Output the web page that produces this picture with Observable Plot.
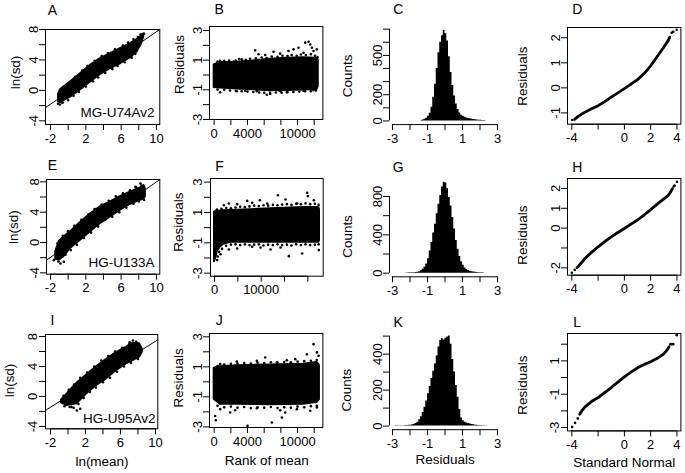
<!DOCTYPE html>
<html><head><meta charset="utf-8">
<script src="https://cdn.jsdelivr.net/npm/d3@7"></script>
<script src="https://cdn.jsdelivr.net/npm/@observablehq/plot@0.6"></script>
<style>
body{margin:0;background:#fff;}
#fig{position:relative;width:685px;height:473px;overflow:hidden;background:#fff;font-family:"Liberation Sans",Arial,sans-serif;}
#fig svg{position:absolute;}
</style></head><body><div id="fig"></div>
<script>
// ---------- text ----------
const letters = ["A","B","C","D","E","F","G","H","I","J","K","L"];
const chips = ["MG-U74Av2","HG-U133A","HG-U95Av2"];
const xTitles = ["ln(mean)","Rank of mean","Residuals","Standard Normal"];
const yTitles = ["ln(sd)","Residuals","Counts","Residuals"];

// ---------- ticks ----------
const lnTicksX = [-2,0,2,4,6,8,10], lnLabelsX = [-2,2,6,10];
const lnTicksY = [-4,-2,0,2,4,6,8], lnLabelsY = [-4,0,4,8];
const rankTicks12k = [0,2000,4000,6000,8000,10000,12000], rankLabels12k = [0,4000,10000];
const rankTicks22k = [0,5000,10000,15000,20000], rankLabels22k = [0,10000];
const resTicksY = [-3,-2,-1,0,1,2,3], resLabelsY = [-3,-1,1,3];
const histTicksX = [-3,-2,-1,0,1,2,3], histLabelsX = [-3,-1,1,3];
const countTicksC = [0,100,200,300,400,500,600,700], countLabelsC = [0,200,500];
const countTicksG = [0,200,400,600,800], countLabelsG = [0,400,800];
const countTicksK = [0,100,200,300,400,500], countLabelsK = [0,200,400];
const qqTicksX = [-4,-2,0,2,4], qqLabelsX = [-4,0,2,4];
const qqTicksYD = [-1,0,1,2], qqLabelsYD = [-1,0,1,2];
const qqTicksYH = [-2,-1,0,1,2], qqLabelsYH = [-2,0,1,2];
const qqTicksYL = [-3,-2,-1,0,1,2], qqLabelsYL = [-3,-1,1];

// ---------- ln(sd) vs ln(mean) clouds (envelopes + edge points) ----------
const cloudA_x  = [-1.1,-0.87,-0.5,0.26,1.4,2.53,3.66,4.8,5.92,7.06,7.8,8.3,8.55];
const cloudA_lo = [-1.5,-1.6,-1.35,-0.88,0.09,1.1,2.1,2.86,3.5,4.3,5.05,6.1,7.0];
const cloudA_hi = [-0.6,0.09,0.45,1.1,2.2,3.3,4.18,4.84,5.5,6.15,6.68,7.1,7.4];
const outA_x = [-1.15,-0.95,-0.7,8.4,8.6,
                0.0,0.8,1.6,2.2,3.0,3.8,4.5,5.3,6.2,6.8,7.4,7.9,8.2,
                -0.6,0.0,0.6,1.2,2.0,2.8,3.4,4.2,5.0,5.6,6.4,7.2,7.6];
const outA_y = [-1.75,-1.85,-1.6,7.35,7.45,
                0.9,1.8,2.6,3.2,3.9,4.5,4.9,5.4,5.9,6.3,6.7,7.0,7.35,
                -1.6,-1.3,-0.7,-0.2,0.5,1.2,1.7,2.3,2.8,3.2,3.7,4.3,4.8];
const fitA_x = [-2.57,10.38], fitA_y = [-2.26,8.0];

const cloudE_x  = [-1.4,-1.0,-0.5,0.26,1.4,2.53,3.66,4.8,5.92,7.06,8.19,8.6,8.75];
const cloudE_lo = [-2.2,-2.3,-1.9,-0.79,0.31,1.41,2.5,3.38,4.26,5.05,5.58,5.75,6.0];
const cloudE_hi = [-1.2,0.15,0.7,1.4,2.65,3.75,4.7,5.35,6.05,6.65,7.2,7.5,7.0];
const outE_x = [-1.62,-0.87,-0.49,7.62,8.19,
                -1.2,-0.6,0.0,0.7,1.5,2.3,3.0,3.8,4.6,5.4,6.2,7.0,7.7,8.3,
                -1.1,-0.3,0.3,1.0,1.8,2.6,3.4,4.2,5.0,5.8,6.6,7.4,8.0,8.6];
const outE_y = [-2.33,-2.77,-2.55,7.34,7.78,
                -0.1,0.9,1.5,2.2,3.0,3.7,4.4,5.0,5.5,6.1,6.5,6.9,7.3,7.5,
                -2.5,-1.6,-1.0,-0.3,0.6,1.3,2.1,3.0,3.4,4.0,4.6,5.1,5.4,5.6];
const fitE_x = [-2.45,10.38], fitE_y = [-2.33,8.31];

const cloudI_x  = [-0.75,-0.11,0.26,1.02,2.15,3.28,4.42,5.55,6.68,7.43,8.19,8.5];
const cloudI_lo = [-0.85,-1.2,-1.15,-0.98,0.36,1.47,2.36,3.47,4.36,4.8,5.24,5.9];
const cloudI_hi = [-0.5,0.3,0.8,1.75,2.85,3.95,4.95,5.85,6.55,7.1,7.02,6.3];
const outI_x = [1.02,1.4,0.64,7.06,7.43,0.2,
                -0.5,0.1,0.7,1.4,2.2,3.0,3.8,4.6,5.4,6.2,7.0,7.8,
                -0.4,0.4,1.2,1.8,2.5,3.2,4.0,4.8,5.6,6.4,7.2,8.0];
const outI_y = [-1.87,-1.64,-1.51,7.24,7.47,-1.4,
                0.1,0.9,1.6,2.5,3.2,4.0,4.8,5.4,6.0,6.5,7.0,7.3,
                -1.3,-1.4,-1.0,-0.2,0.6,1.2,1.9,2.5,3.3,4.0,4.5,5.0];
const fitI_x = [-2.57,10.27], fitI_y = [-1.85,7.56];

// ---------- residuals vs rank ----------
const bandB_x  = [0,720,2720,4720,6720,8720,10720,12320,12488];
const bandB_lo = [-0.85,-0.88,-0.95,-1.0,-1.06,-1.04,-1.02,-0.98,-0.8];
const bandB_hi = [0.68,0.84,0.86,0.95,1.06,1.13,1.17,1.13,1.0];
const outB_x = [720,2320,3320,4920,5320,6120,7120,7920,8920,9520,10120,10720,10920,11320,11520,11720,11920,12320,
                720,2720,3720,5120,6320,6720,7920,8720,10720,11920,
                400,1200,1800,2600,3000,3800,4300,5000,5700,6300,6900,7600,8200,8800,9300,9900,10400,11000,11600,12100,12400,
                400,1200,1900,2600,3300,4000,4700,5400,6000,6700,7400,8100,8800,9500,10200,10900,11600,12200];
const outB_y = [0.95,0.9,1.06,1.66,1.4,1.35,1.57,1.44,1.62,1.73,1.84,1.5,2.18,2.24,2.06,1.84,1.62,1.73,
                -1.17,-1.1,-1.06,-1.1,-1.33,-1.28,-1.1,-1.17,-1.06,-1.02,
                0.9,0.95,0.98,0.97,1.08,1.02,1.1,1.12,1.18,1.15,1.25,1.22,1.3,1.28,1.35,1.3,1.38,1.35,1.4,1.3,1.2,
                -0.98,-1.0,-1.05,-1.08,-1.1,-1.12,-1.15,-1.18,-1.2,-1.2,-1.18,-1.2,-1.15,-1.15,-1.12,-1.1,-1.1,-1.05];

const bandF_x  = [0,360,570,1290,2000,3430,6290,12000,19140,22360,22500];
const bandF_lo = [-2.25,-1.92,-1.59,-1.26,-1.09,-0.97,-0.97,-0.97,-0.95,-0.97,-0.85];
const bandF_hi = [1.04,1.06,1.08,1.1,1.11,1.13,1.17,1.24,1.33,1.33,1.2];
const outF_x = [3071,4857,7000,8071,9714,11286,13571,15214,17714,19857,20000,21286,2000,
                571,1286,3071,4857,8071,12000,15929,18786,22357,14143,9857,
                500,1500,2500,3500,4500,5500,6500,7500,8500,9500,10500,11500,12500,13500,14500,15500,16500,17500,18500,19500,20500,21500,22300,
                700,1000,1600,2500,3500,4500,5500,6500,7500,8500,9500,10500,11500,12500,13500,14500,15500,16500,17500,18500,19500,20500,21500,22300];
const outF_y = [1.59,1.55,1.77,1.64,1.81,1.59,2.14,1.86,1.59,2.3,2.08,1.81,1.48,
                -2.14,-1.75,-1.44,-1.37,-1.26,-1.44,-1.88,-1.7,-1.48,-1.31,-1.31,
                1.2,1.25,1.3,1.28,1.33,1.38,1.35,1.4,1.45,1.42,1.48,1.45,1.5,1.48,1.52,1.55,1.5,1.58,1.55,1.6,1.55,1.58,1.5,
                -1.9,-1.6,-1.4,-1.2,-1.12,-1.1,-1.15,-1.1,-1.15,-1.12,-1.1,-1.18,-1.12,-1.15,-1.1,-1.15,-1.12,-1.18,-1.1,-1.15,-1.1,-1.15,-1.12,-1.1];

const bandJ_x  = [0,720,2720,6720,10720,12320,12625];
const bandJ_lo = [-1.16,-1.49,-1.49,-1.53,-1.49,-1.38,-1.2];
const bandJ_hi = [0.91,1.0,1.07,1.13,1.18,1.29,1.1];
const outJ_x = [720,2720,5120,6120,7520,8720,9720,11120,11920,12320,12520,
                120,200,720,1920,2520,4000,5120,6920,8120,8520,7920,9920,11520,12320,
                400,1200,2000,2800,3600,4400,5200,6000,6800,7600,8400,9200,10000,10800,11600,12300,
                400,1200,2000,2800,3600,4400,5200,6000,6800,7600,8400,9200,10000,10800,11600,12300];
const outJ_y = [1.18,1.36,1.4,1.62,1.29,1.44,1.51,1.84,2.51,1.96,1.73,
                -2.27,-2.56,-1.82,-2.04,-1.89,-2.93,-1.76,-2.71,-2.38,-2.04,-1.89,-1.82,-1.93,-1.71,
                1.05,1.15,1.2,1.22,1.25,1.22,1.28,1.25,1.3,1.28,1.32,1.3,1.35,1.38,1.4,1.45,
                -1.6,-1.7,-1.65,-1.72,-1.68,-1.75,-1.7,-1.72,-1.68,-1.75,-1.7,-1.72,-1.65,-1.7,-1.62,-1.6];

// ---------- histograms (bin centres, counts) ----------
const histC_x = [-1.35,-1.25,-1.15,-1.05,-0.95,-0.85,-0.75,-0.65,-0.55,-0.45,-0.35,-0.25,-0.15,-0.05,
                 0.05,0.15,0.25,0.35,0.45,0.55,0.65,0.75,0.85,0.95,1.05,1.15,1.25,1.35,1.45,1.55,1.65,1.75,1.85,1.95,2.05,2.15,2.25,2.35];
const histC_n = [4,7,12,20,35,58,105,180,280,400,520,600,650,690,
                 665,610,490,370,270,190,130,88,60,44,35,28,23,19,16,13,11,9,7,6,5,4,3,2];
const histG_x = [-2.25,-2.15,-2.05,-1.95,-1.85,-1.75,-1.65,-1.55,-1.45,-1.35,-1.25,-1.15,-1.05,-0.95,-0.85,-0.75,-0.65,-0.55,-0.45,-0.35,-0.25,-0.15,-0.05,
                 0.05,0.15,0.25,0.35,0.45,0.55,0.65,0.75,0.85,0.95,1.05,1.15,1.25,1.35,1.45,1.55,1.65,1.75,1.85,1.95,2.05,2.15,2.25];
const histG_n = [2,2,3,3,4,5,7,10,15,25,40,62,95,150,230,320,420,510,620,720,810,900,950,
                 940,880,790,700,580,460,340,250,175,120,82,55,38,27,20,15,11,9,7,5,4,3,2];
const histK_x = [-2.85,-2.75,-2.65,-2.55,-2.45,-2.35,-2.25,-2.15,-2.05,-1.95,-1.85,-1.75,-1.65,-1.55,-1.45,-1.35,-1.25,-1.15,-1.05,-0.95,-0.85,-0.75,-0.65,-0.55,-0.45,-0.35,-0.25,-0.15,-0.05,
                 0.05,0.15,0.25,0.35,0.45,0.55,0.65,0.75,0.85,0.95,1.05,1.15,1.25,1.35,1.45,1.55,1.65,1.75,1.85,1.95,2.05,2.15,2.25,2.35,2.45];
const histK_n = [2,2,2,2,2,2,3,3,4,5,7,10,15,22,35,52,75,105,140,180,220,265,305,345,390,440,475,485,478,
                 488,495,500,455,370,300,225,160,92,45,30,22,17,14,11,9,7,5,4,3,3,2,2,2,2];

// ---------- normal QQ plots ----------
const qqD_x = [-3.75,-3.5,-3.0,-2.5,-2.0,-1.5,-1.0,-0.5,0,0.5,1.0,1.5,2.0,2.5,3.0,3.3,3.45];
const qqD_y = [-1.24,-1.13,-0.97,-0.83,-0.71,-0.55,-0.37,-0.2,-0.03,0.15,0.33,0.57,0.88,1.25,1.62,1.86,2.02];
const qqD_tx = [-3.97,-3.8,3.6,3.72,3.98], qqD_ty = [-1.28,-1.26,2.2,2.24,2.32];
const qqH_x = [-3.6,-3.5,-3.0,-2.5,-2.0,-1.5,-1.0,-0.5,0,0.5,1.0,1.5,2.0,2.5,3.0,3.3,3.5,3.65];
const qqH_y = [-1.98,-1.92,-1.53,-1.22,-0.94,-0.68,-0.44,-0.22,-0.02,0.2,0.41,0.66,0.93,1.21,1.47,1.62,1.8,1.98];
const qqH_tx = [-4.0,-3.78,3.75,3.82,4.0], qqH_ty = [-2.25,-2.1,2.1,2.14,2.34];
const qqL_x = [-3.4,-3.2,-3.0,-2.5,-2.0,-1.5,-1.0,-0.5,0,0.5,1.0,1.5,2.0,2.5,3.0,3.3,3.4];
const qqL_y = [-2.2,-1.95,-1.76,-1.44,-1.2,-0.9,-0.6,-0.28,0.04,0.32,0.58,0.78,0.95,1.15,1.42,1.7,1.85];
const qqL_tx = [-3.98,-3.75,-3.55,3.5,3.6,3.72,3.98], qqL_ty = [-2.96,-2.72,-2.45,2.0,2.0,2.0,2.54];

// ---------- helpers ----------
const zip = (keys, ...arrs) => arrs[0].map((_, i) => Object.fromEntries(keys.map((k, j) => [k, arrs[j][i]])));
const fig = document.getElementById("fig");
const FONT = "Liberation Sans, Arial, Helvetica, sans-serif";

function cloudMarks(cx, lo, hi, ox, oy, fx, fy) {
  return [
    Plot.areaY(zip(["x","lo","hi"], cx, lo, hi), {x: "x", y1: "lo", y2: "hi", fill: "black", stroke: "black", strokeWidth: 2, strokeLinejoin: "round"}),
    Plot.dot(zip(["x","y"], ox, oy), {x: "x", y: "y", r: 1.3, fill: "black"}),
    Plot.line(zip(["x","y"], fx, fy), {x: "x", y: "y", stroke: "black", strokeWidth: 1})
  ];
}
function bandMarks(bx, lo, hi, ox, oy) {
  return [
    Plot.areaY(zip(["x","lo","hi"], bx, lo, hi), {x: "x", y1: "lo", y2: "hi", fill: "black", stroke: "black", strokeWidth: 2, strokeLinejoin: "round"}),
    Plot.dot(zip(["x","y"], ox, oy), {x: "x", y: "y", r: 1.3, fill: "black"})
  ];
}
function histMarks(hx, hn) {
  return [Plot.areaY(zip(["x","n"], hx, hn), {x: "x", y: "n", curve: "step", fill: "black"})];
}
function qqMarks(qx, qy, tx, ty) {
  return [
    Plot.line(zip(["x","y"], qx, qy), {x: "x", y: "y", stroke: "black", strokeWidth: 2.8, strokeLinecap: "round"}),
    Plot.dot(zip(["x","y"], tx, ty), {x: "x", y: "y", r: 1.3, fill: "black"})
  ];
}

function panel(p) {
  const [x0, y0, x1, y1] = p.box;
  const ML = 30, MR = 6, MT = 6, MB = 30;
  const W = x1 - x0 + ML + MR, H = y1 - y0 + MT + MB;
  const fmt = labs => d => labs.includes(d) ? String(d) : "";
  const m = [];
  m.push(...p.marks);
  if (p.frame) m.push(Plot.frame({stroke: "black", strokeWidth: 1}));
  m.push(Plot.ruleY([p.y[0]], {x1: p.xt[0], x2: p.xt[p.xt.length - 1], stroke: "black"}));
  m.push(Plot.ruleX([p.x[0]], {y1: p.yt[0], y2: p.yt[p.yt.length - 1], stroke: "black"}));
  m.push(Plot.axisX(p.xt, {tickFormat: fmt(p.xl), tickSize: 6, tickPadding: 3, label: null}));
  m.push(Plot.axisY(p.yt, {tickFormat: fmt(p.yl), tickSize: 6, tickPadding: 2, tickRotate: -90, label: null}));
  for (const t of p.texts) {
    m.push(Plot.text([t.s], {frameAnchor: "top-left", dx: t.x - x0, dy: t.y - y0, rotate: t.r || 0,
      fontSize: t.f || 13.5, textAnchor: t.a || "middle", lineAnchor: t.l || "middle", fill: "black"}));
  }
  const svg = Plot.plot({
    width: W, height: H, marginLeft: ML, marginRight: MR, marginTop: MT, marginBottom: MB,
    x: {domain: p.x, nice: false}, y: {domain: p.y, nice: false},
    style: {background: "transparent", overflow: "visible", fontFamily: FONT, fontSize: "13px", color: "black"},
    marks: m
  });
  svg.style.position = "absolute";
  svg.style.left = (x0 - ML) + "px";
  svg.style.top = (y0 - MT) + "px";
  fig.appendChild(svg);
}

const L = (s, x, y) => ({s, x, y, f: 14});
const YT = (s, x, y) => ({s, x, y, r: -90});
const XT = (s, x, y) => ({s, x, y});
const CH = (s, x, y) => ({s, x, y, a: "end", l: "bottom"});

// Row 1
panel({box: [45, 29, 159.3, 124], x: [-2.57, 10.38], y: [-4.48, 8.0], frame: true,
  xt: lnTicksX, xl: lnLabelsX, yt: lnTicksY, yl: lnLabelsY,
  marks: cloudMarks(cloudA_x, cloudA_lo, cloudA_hi, outA_x, outA_y, fitA_x, fitA_y),
  texts: [L(letters[0], 52, 10), YT(yTitles[0], 15, 72), CH(chips[0], 154, 117)]});
panel({box: [209.3, 26, 322.7, 119], x: [-560, 13040], y: [-3.0, 3.27], frame: true,
  xt: rankTicks12k, xl: rankLabels12k, yt: resTicksY, yl: resLabelsY,
  marks: bandMarks(bandB_x, bandB_lo, bandB_hi, outB_x, outB_y),
  texts: [L(letters[1], 219, 9), YT(yTitles[1], 179, 64)]});
panel({box: [389.3, 24.6, 500.3, 123.7], x: [-3.17, 3.17], y: [-28, 728], frame: false,
  xt: histTicksX, xl: histLabelsX, yt: countTicksC, yl: countLabelsC,
  marks: histMarks(histC_x, histC_n),
  texts: [L(letters[2], 398, 9), YT(yTitles[2], 347, 75)]});
panel({box: [567.3, 27.3, 680.7, 124], x: [-4.33, 4.30], y: [-1.45, 2.41], frame: true,
  xt: qqTicksX, xl: qqLabelsX, yt: qqTicksYD, yl: qqLabelsYD,
  marks: qqMarks(qqD_x, qqD_y, qqD_tx, qqD_ty),
  texts: [L(letters[3], 577, 9), YT(yTitles[3], 522, 76)]});

// Row 2
panel({box: [46, 179.3, 159.3, 274], x: [-2.45, 10.38], y: [-4.18, 8.31], frame: true,
  xt: lnTicksX, xl: lnLabelsX, yt: lnTicksY, yl: lnLabelsY,
  marks: cloudMarks(cloudE_x, cloudE_lo, cloudE_hi, outE_x, outE_y, fitE_x, fitE_y),
  texts: [L(letters[4], 52, 165), YT(yTitles[0], 13.5, 227), CH(chips[1], 154, 267)]});
panel({box: [210, 178.3, 322.7, 276], x: [-857, 23286], y: [-3.2, 3.24], frame: true,
  xt: rankTicks22k, xl: rankLabels22k, yt: resTicksY, yl: resLabelsY,
  marks: bandMarks(bandF_x, bandF_lo, bandF_hi, outF_x, outF_y),
  texts: [L(letters[5], 219, 166), YT(yTitles[1], 178.5, 222)]});
panel({box: [389.3, 178, 500.3, 276.3], x: [-3.17, 3.17], y: [-38, 988], frame: false,
  xt: histTicksX, xl: histLabelsX, yt: countTicksG, yl: countLabelsG,
  marks: histMarks(histG_x, histG_n),
  texts: [L(letters[6], 398, 167), YT(yTitles[2], 347, 236)]});
panel({box: [567.3, 178.3, 680.7, 275], x: [-4.33, 4.30], y: [-2.37, 2.50], frame: true,
  xt: qqTicksX, xl: qqLabelsX, yt: qqTicksYH, yl: qqLabelsYH,
  marks: qqMarks(qqH_x, qqH_y, qqH_tx, qqH_ty),
  texts: [L(letters[7], 577, 167), YT(yTitles[3], 522, 235)]});

// Row 3
panel({box: [45, 334, 157.3, 428.3], x: [-2.57, 10.27], y: [-4.31, 8.27], frame: true,
  xt: lnTicksX, xl: lnLabelsX, yt: lnTicksY, yl: lnLabelsY,
  marks: cloudMarks(cloudI_x, cloudI_lo, cloudI_hi, outI_x, outI_y, fitI_x, fitI_y),
  texts: [L(letters[8], 52, 320), YT(yTitles[0], 9, 380), CH(chips[2], 155, 423), XT(xTitles[0], 101.5, 461)]});
panel({box: [209.3, 332.7, 322.7, 426.7], x: [-560, 13040], y: [-3.04, 3.22], frame: true,
  xt: rankTicks12k, xl: rankLabels12k, yt: resTicksY, yl: resLabelsY,
  marks: bandMarks(bandJ_x, bandJ_lo, bandJ_hi, outJ_x, outJ_y),
  texts: [L(letters[9], 219, 320), YT(yTitles[1], 178.5, 377), XT(xTitles[1], 266.5, 460)]});
panel({box: [389.3, 332.4, 500.3, 429.6], x: [-3.17, 3.17], y: [-20, 520], frame: false,
  xt: histTicksX, xl: histLabelsX, yt: countTicksK, yl: countLabelsK,
  marks: histMarks(histK_x, histK_n),
  texts: [L(letters[10], 398, 322), YT(yTitles[2], 346, 390), XT(xTitles[2], 445, 460)]});
panel({box: [567.3, 333.3, 680.7, 430.7], x: [-4.33, 4.30], y: [-3.2, 2.64], frame: true,
  xt: qqTicksX, xl: qqLabelsX, yt: qqTicksYL, yl: qqLabelsYL,
  marks: qqMarks(qqL_x, qqL_y, qqL_tx, qqL_ty),
  texts: [L(letters[11], 577, 322), YT(yTitles[3], 522, 385), XT(xTitles[3], 624, 462)]});
</script>
</body></html>
